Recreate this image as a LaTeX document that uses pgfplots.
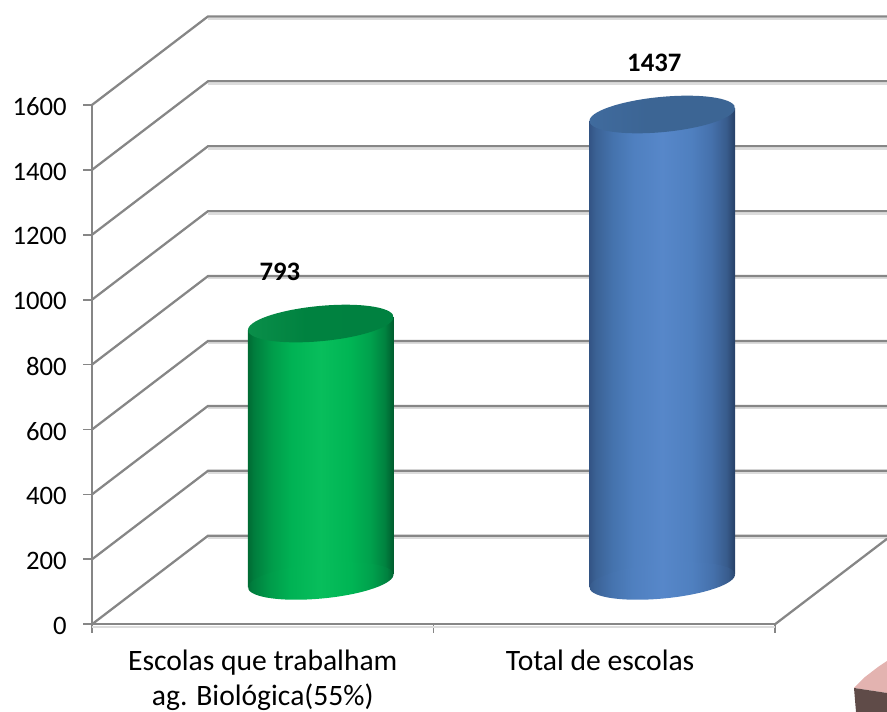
\documentclass[border=0pt]{standalone}
\usepackage{fontspec}
\setmainfont{Carlito}
\usepackage{pgfplots}
\pgfplotsset{compat=1.18}
\definecolor{gridc}{HTML}{868686}
\definecolor{shadc}{HTML}{DCDCDC}
\pgfdeclarehorizontalshading{greencyl}{100bp}{
  rgb(0bp)=(0,0.42,0.2);
  rgb(25bp)=(0,0.42,0.2);
  rgb(27bp)=(0,0.49,0.24);
  rgb(33bp)=(0,0.61,0.29);
  rgb(40bp)=(0,0.70,0.33);
  rgb(50bp)=(0.03,0.745,0.36);
  rgb(60bp)=(0,0.71,0.33);
  rgb(67bp)=(0,0.63,0.30);
  rgb(72bp)=(0,0.51,0.25);
  rgb(75bp)=(0,0.36,0.18);
  rgb(100bp)=(0,0.36,0.18)}
\pgfdeclarehorizontalshading{bluecyl}{100bp}{
  rgb(0bp)=(0.2,0.33,0.52);
  rgb(25bp)=(0.2,0.33,0.52);
  rgb(27bp)=(0.23,0.38,0.58);
  rgb(33bp)=(0.27,0.45,0.68);
  rgb(40bp)=(0.31,0.50,0.75);
  rgb(50bp)=(0.34,0.53,0.79);
  rgb(60bp)=(0.31,0.50,0.75);
  rgb(67bp)=(0.27,0.44,0.67);
  rgb(72bp)=(0.22,0.36,0.55);
  rgb(75bp)=(0.15,0.25,0.40);
  rgb(100bp)=(0.15,0.25,0.40)}
\pgfdeclarehorizontalshading{greencapsh}{100bp}{
  rgb(0bp)=(0.04,0.56,0.29);
  rgb(25bp)=(0.04,0.56,0.29);
  rgb(45bp)=(0,0.51,0.25);
  rgb(100bp)=(0,0.5,0.25)}
\pgfdeclarehorizontalshading{bluecapsh}{100bp}{
  rgb(0bp)=(0.25,0.42,0.62);
  rgb(25bp)=(0.25,0.42,0.62);
  rgb(45bp)=(0.235,0.395,0.58);
  rgb(100bp)=(0.235,0.395,0.58)}
\pgfdeclareplotmark{greenbase}{\pgfpathellipse{\pgfqpoint{0pt}{0pt}}{\pgfqpoint{54.5pt}{4.1pt}}{\pgfqpoint{3pt}{13.5pt}}\pgfshadepath{greencyl}{0}\pgfusepath{discard}}
\pgfdeclareplotmark{bluebase}{\pgfpathellipse{\pgfqpoint{0pt}{0pt}}{\pgfqpoint{54.5pt}{4.1pt}}{\pgfqpoint{3pt}{13.5pt}}\pgfshadepath{bluecyl}{0}\pgfusepath{discard}}
\pgfdeclareplotmark{greencap}{\pgfpathellipse{\pgfqpoint{0pt}{0pt}}{\pgfqpoint{54.5pt}{4.1pt}}{\pgfqpoint{3pt}{13.5pt}}\pgfshadepath{greencapsh}{0}\pgfusepath{discard}}
\pgfdeclareplotmark{bluecap}{\pgfpathellipse{\pgfqpoint{0pt}{0pt}}{\pgfqpoint{54.5pt}{4.1pt}}{\pgfqpoint{3pt}{13.5pt}}\pgfshadepath{bluecapsh}{0}\pgfusepath{discard}}
\begin{document}
\begin{tikzpicture}
\useasboundingbox (0,0) rectangle (665.25pt,534pt);
\clip (0,0) rectangle (665.25pt,534pt);
\begin{axis}[
  at={(69pt,65.8pt)}, anchor=south west,
  scale only axis, width=512.25pt, height=389.5pt,
  xmin=-0.5, xmax=1.5, ymin=0, ymax=1600,
  enlargelimits=false, clip=false,
  axis lines=left,
  axis line style={-, draw=gridc, line width=1.6pt},
  tick style={draw=gridc, line width=1.3pt},
  tick align=outside, major tick length=6.5pt,
  ytick={0,200,...,1600},
  xtick={-0.5,0.5,1.5}, xticklabels={},
  extra x ticks={0,0.988},
  extra x tick labels={Escolas que trabalham\\ag. Biológica(55\%),Total de escolas},
  extra x tick style={major tick length=0pt,
    tick style={draw=none},
    xticklabel style={align=center, yshift=-18.5pt, anchor=north, inner ysep=0.5pt, font=\fontsize{22.2}{26}\selectfont}},
  ticklabel style={font=\fontsize{20}{26.5}\selectfont, text=black},
  /pgf/number format/assume math mode=true,
  /pgf/number format/1000 sep={},
  yticklabel style={xshift=-9pt, yshift=-1.2pt},
]
% wall shadows
\addplot[draw=shadc, line width=1.5pt, forget plot, yshift=-1.8pt] coordinates {(-0.5,0)(1.5,0)};
\addplot[draw=shadc, line width=1.5pt, forget plot, yshift=-1.8pt] coordinates {(-0.1603,272.7)(1.828,272.7)};
\addplot[draw=shadc, line width=1.5pt, forget plot, yshift=-1.8pt] coordinates {(-0.1603,472.7)(1.828,472.7)};
\addplot[draw=shadc, line width=1.5pt, forget plot, yshift=-1.8pt] coordinates {(-0.1603,672.7)(1.828,672.7)};
\addplot[draw=shadc, line width=1.5pt, forget plot, yshift=-1.8pt] coordinates {(-0.1603,872.7)(1.828,872.7)};
\addplot[draw=shadc, line width=1.5pt, forget plot, yshift=-1.8pt] coordinates {(-0.1603,1072.7)(1.828,1072.7)};
\addplot[draw=shadc, line width=1.5pt, forget plot, yshift=-1.8pt] coordinates {(-0.1603,1272.7)(1.828,1272.7)};
\addplot[draw=shadc, line width=1.5pt, forget plot, yshift=-1.8pt] coordinates {(-0.1603,1472.7)(1.828,1472.7)};
\addplot[draw=shadc, line width=1.5pt, forget plot, yshift=-1.8pt] coordinates {(-0.1603,1672.7)(1.828,1672.7)};
\addplot[draw=shadc, line width=1.5pt, forget plot, yshift=-1.8pt] coordinates {(-0.1603,1872.7)(1.828,1872.7)};
% wall lines
\addplot[draw=gridc, line width=1.7pt] coordinates {(-0.5,0)(-0.1603,272.7)(1.828,272.7)};
\addplot[draw=gridc, line width=1.7pt] coordinates {(-0.5,200)(-0.1603,472.7)(1.828,472.7)};
\addplot[draw=gridc, line width=1.7pt] coordinates {(-0.5,400)(-0.1603,672.7)(1.828,672.7)};
\addplot[draw=gridc, line width=1.7pt] coordinates {(-0.5,600)(-0.1603,872.7)(1.828,872.7)};
\addplot[draw=gridc, line width=1.7pt] coordinates {(-0.5,800)(-0.1603,1072.7)(1.828,1072.7)};
\addplot[draw=gridc, line width=1.7pt] coordinates {(-0.5,1000)(-0.1603,1272.7)(1.828,1272.7)};
\addplot[draw=gridc, line width=1.7pt] coordinates {(-0.5,1200)(-0.1603,1472.7)(1.828,1472.7)};
\addplot[draw=gridc, line width=1.7pt] coordinates {(-0.5,1400)(-0.1603,1672.7)(1.828,1672.7)};
\addplot[draw=gridc, line width=1.7pt] coordinates {(-0.5,1600)(-0.1603,1872.7)(1.828,1872.7)};
% floor edge
\addplot[draw=gridc, line width=1.7pt] coordinates {(1.5,0)(1.828,263.3)};
% green cylinder
\addplot[only marks, mark=greenbase, xshift=43.5pt, yshift=32.5pt] coordinates {(0,0)};
\addplot[draw=none, shading=greencyl, xshift=43.5pt, yshift=32.5pt] coordinates {(-0.2131,-19.9)(-0.2131,773.1)(0.2131,812.9)(0.2131,19.9)} --cycle;
\addplot[only marks, mark=greencap, xshift=43.5pt, yshift=32.5pt,
  nodes near coords, point meta=y,
  nodes near coords style={font=\fontsize{20}{22}\bfseries\selectfont, text=black, anchor=center, xshift=-30.7pt, yshift=38.5pt, /pgf/number format/assume math mode=true, /pgf/number format/1000 sep={}}]
  coordinates {(0,793)};
% blue cylinder
\addplot[only marks, mark=bluebase, xshift=43.5pt, yshift=32.5pt] coordinates {(1,0)};
\addplot[draw=none, shading=bluecyl, xshift=43.5pt, yshift=32.5pt] coordinates {(0.7869,-19.9)(0.7869,1417.1)(1.2131,1456.9)(1.2131,19.9)} --cycle;
\addplot[only marks, mark=bluecap, xshift=43.5pt, yshift=32.5pt,
  nodes near coords, point meta=y,
  nodes near coords style={font=\fontsize{20}{22}\bfseries\selectfont, text=black, anchor=center, xshift=-6pt, yshift=39pt, /pgf/number format/assume math mode=true, /pgf/number format/1000 sep={}}]
  coordinates {(1,1437)};
% pie fragment at the corner
\addplot[fill={rgb,255:red,227;green,179;blue,176}, draw=none] coordinates {(1.7313,-196.3)(1.7635,-162.4)(1.8016,-131.6)(1.828,-113.1)(1.828,-211.7)} --cycle;
\addplot[fill={rgb,255:red,95;green,75;blue,72}, draw=none] coordinates {(1.7313,-196.3)(1.828,-211.7)(1.828,-270.2)(1.7372,-270.2)} --cycle;
\end{axis}
\end{tikzpicture}
\end{document}
